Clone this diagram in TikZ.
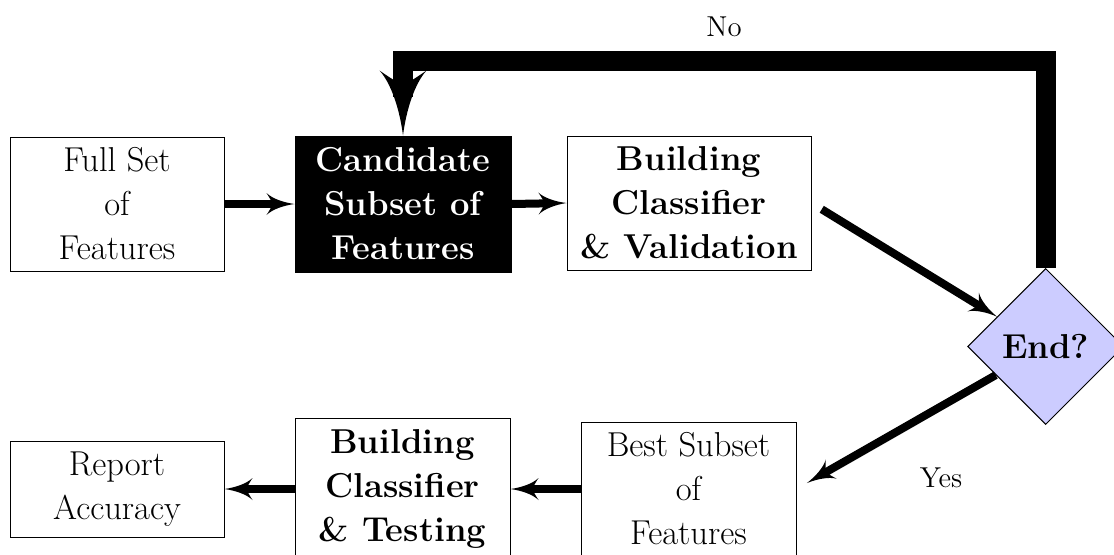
\documentclass[tikz,border=0pt]{standalone}
\usetikzlibrary{shapes.geometric,arrows.meta}

% filled arrow head with concave flanks and swept-back barbs
\pgfdeclarearrow{
  name = Barb,
  defaults = {length = 14pt, width = 11pt},
  parameters = {\the\pgfarrowlength,\the\pgfarrowwidth},
  setup code = {
    \pgfarrowssettipend{0pt}
    \pgfarrowssetbackend{-\pgfarrowlength}
    \pgfarrowssetlineend{-0.6\pgfarrowlength}
    \pgfarrowssetvisualbackend{-0.8\pgfarrowlength}
    \pgfarrowssavethe\pgfarrowlength
    \pgfarrowssavethe\pgfarrowwidth
  },
  drawing code = {
    \pgfpathmoveto{\pgfqpoint{0pt}{0pt}}
    \pgfpathcurveto{\pgfqpoint{-0.4\pgfarrowlength}{0.07\pgfarrowwidth}}
                   {\pgfqpoint{-0.8\pgfarrowlength}{0.25\pgfarrowwidth}}
                   {\pgfqpoint{-\pgfarrowlength}{0.5\pgfarrowwidth}}
    \pgfpathcurveto{\pgfqpoint{-0.9\pgfarrowlength}{0.3\pgfarrowwidth}}
                   {\pgfqpoint{-0.82\pgfarrowlength}{0.15\pgfarrowwidth}}
                   {\pgfqpoint{-0.8\pgfarrowlength}{0pt}}
    \pgfpathcurveto{\pgfqpoint{-0.82\pgfarrowlength}{-0.15\pgfarrowwidth}}
                   {\pgfqpoint{-0.9\pgfarrowlength}{-0.3\pgfarrowwidth}}
                   {\pgfqpoint{-\pgfarrowlength}{-0.5\pgfarrowwidth}}
    \pgfpathcurveto{\pgfqpoint{-0.8\pgfarrowlength}{-0.25\pgfarrowwidth}}
                   {\pgfqpoint{-0.4\pgfarrowlength}{-0.07\pgfarrowwidth}}
                   {\pgfqpoint{0pt}{0pt}}
    \pgfpathclose
    \pgfusepathqfill
  }
}

\begin{document}
\begin{tikzpicture}[x=1pt,y=1pt,
  box/.style={draw, line width=0.5pt, align=center, font=\LARGE, inner sep=0pt},
  darkbox/.style={box, fill=black, text=white, font=\LARGE\bfseries},
  boldbox/.style={box, font=\LARGE\bfseries},
  decision/.style={diamond, draw, line width=0.5pt, fill=blue!20, font=\LARGE\bfseries,
    inner sep=0pt, minimum width=78pt, minimum height=78pt},
  flow/.style={line width=4pt, -{Barb[length=14pt,width=11pt]}},
  loopback/.style={line width=10pt, -{Barb[length=32.5pt,width=23.5pt]}},
  lbl/.style={font=\Large}]
\clip (0,0) rectangle (557,277);
\fill[white] (0,0) rectangle (557,277);

% top row
\node[box, minimum width=107pt, minimum height=67pt] (full) at (58.5,175) {Full Set\\of\\Features};
\node[darkbox, minimum width=108pt, minimum height=68pt] (cand) at (201.5,175) {Candidate\\Subset of\\Features};
\node[boldbox, minimum width=122pt, minimum height=67pt] (build) at (344.5,175.5) {Building\\Classifier\\\& Validation};
\node[decision] (end) at (522.85,103.75) {End?};

% bottom row
\node[box, minimum width=107.5pt, minimum height=67pt] (best) at (344.25,32.5) {Best Subset\\of\\Features};
\node[boldbox, minimum width=107.5pt, minimum height=71pt] (test) at (201.25,32.5) {Building\\Classifier\\\& Testing};
\node[box, minimum width=107pt, minimum height=48pt] (report) at (58.5,32.5) {Report\\Accuracy};

% connectors
\draw[flow] (full.east) -- (cand.west);
\draw[flow] (cand.east) -- (build.west);
\draw[flow, shorten <=6pt] (build.east) -- (end);
\draw[flow, shorten >=6pt] (end) -- (best.east);
\draw[flow] (best.west) -- (test.east);
\draw[flow] (test.west) -- (report.east);

\coordinate (upR) at (end.north |- 0,246.5);
\coordinate (upL) at (cand.north |- 0,246.5);
\draw[loopback, line join=miter] (end.north) -- (upR) -- (upL) -- (cand.north);

% branch labels
\node[lbl] (no) at (362,263.5) {No};
\node[lbl] (yes) at (470.5,38) {Yes};
\end{tikzpicture}
\end{document}
